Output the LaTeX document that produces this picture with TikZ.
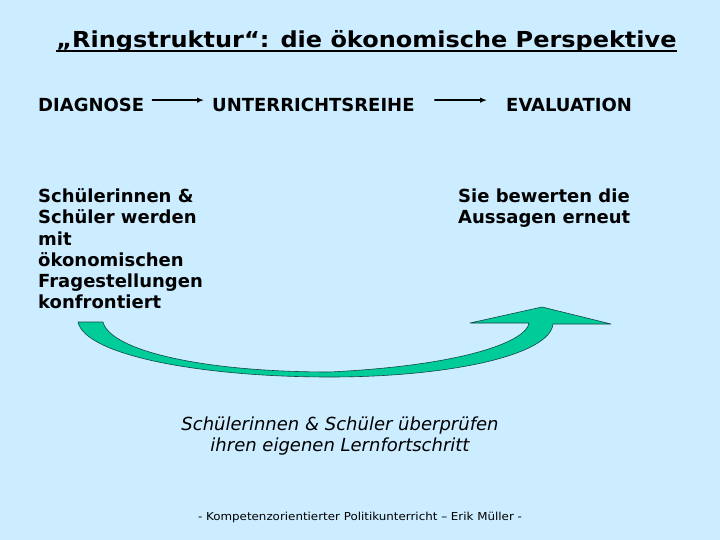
\documentclass[tikz,border=0pt]{standalone}
\usepackage{graphicx}
\usepackage{fontspec}
\setmainfont{DejaVu Sans}
\usetikzlibrary{arrows.meta}
\definecolor{slidebg}{RGB}{204,236,255}
\definecolor{ringgreen}{RGB}{0,204,153}
\definecolor{ringline}{RGB}{20,70,70}

\tikzset{
  headline/.style={anchor=base,inner sep=0pt,font=\fontsize{22}{26}\selectfont\bfseries},
  phase/.style={anchor=base west,inner sep=0pt,font=\fontsize{18}{21.3}\selectfont\bfseries},
  block/.style={anchor=north west,inner sep=0pt,align=left,font=\fontsize{18}{21.3}\selectfont\bfseries},
  note/.style={anchor=north,inner sep=0pt,align=center,font=\fontsize{18}{21.5}\selectfont\itshape},
  credit/.style={anchor=base,inner sep=0pt,font=\fontsize{11}{13}\selectfont},
  flow/.style={-{Latex[length=7pt,width=5.5pt]},line width=1.3pt},
  ringarrow/.style={fill=ringgreen,draw=ringline,line width=0.6pt}
}

\begin{document}
\begin{tikzpicture}[line cap=round,line join=round,x=1.0pt,y=-1.0pt]
    \fill [slidebg] (0,0) rectangle (720,540);
    \useasboundingbox (0,0) rectangle (720,540);
    \node [headline] (title) at (366.5,47.3) {\scalebox{1.09}[1]{„Ringstruktur“: die ökonomische Perspektive}};
    \draw [line width=1.7pt,line cap=butt] ([yshift=-3.8pt]title.base west) -- ([yshift=-3.8pt]title.base east);
    \node [phase] (diag) at (38,112) {DIAGNOSE};
    \node [phase] (unt) at (212,112) {UNTERRICHTSREIHE};
    \node [phase] (eval) at (506,112) {EVALUATION};
    \draw [flow,shorten <=8pt,shorten >=8pt] ([yshift=-1.7pt]diag.north east) -- ([yshift=-1.7pt]unt.north west);
    \draw [flow,shorten <=20pt,shorten >=19pt] ([yshift=-1.7pt]unt.north east) -- ([yshift=-1.7pt]eval.north west);
    \node [block] (confront) at (38,188.3) {Schülerinnen \&\\Schüler werden\\mit\\ökonomischen\\Fragestellungen\\konfrontiert};
    \node [block] (assess) at (458,188.3) {Sie bewerten die\\Aussagen erneut};
    \filldraw [ringarrow] (78,322) .. controls (85,355) and (200,377) .. (330,377)
        .. controls (450,377) and (550,355) .. (553,324)
        -- (611,324) -- (542,307) -- (470,323) -- (529,323)
        .. controls (527,340) and (470,365) .. (330,372)
        .. controls (200,372) and (110,350) .. (103,322) -- cycle;
    \node [note] (check) at (340,416.3) {Schülerinnen \& Schüler überprüfen\\ihren eigenen Lernfortschritt};
    \node [credit] (author) at (360,520) {\scalebox{1.08}[1]{- Kompetenzorientierter Politikunterricht – Erik Müller -}};
\end{tikzpicture}
\end{document}
